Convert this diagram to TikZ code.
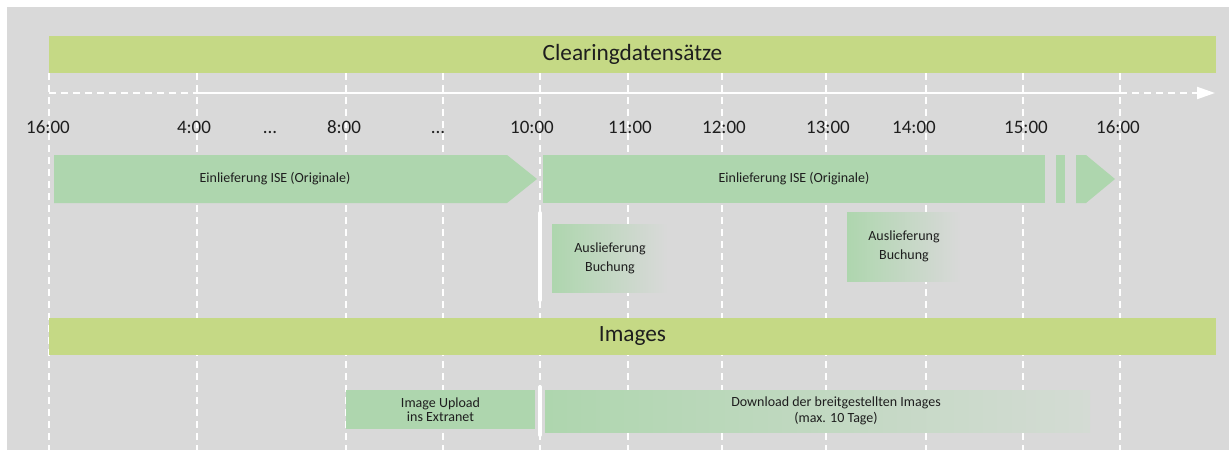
\documentclass[tikz,border=0pt]{standalone}
\usepackage{fontspec}
\setmainfont{Carlito}
\usepackage{tikz}
\usetikzlibrary{arrows.meta}
\definecolor{bggray}{RGB}{217,217,217}
\definecolor{barolive}{RGB}{197,217,133}
\definecolor{boxgreen}{RGB}{174,214,174}
\definecolor{dlgray}{RGB}{212,219,212}
\definecolor{txtgray}{RGB}{30,30,30}

\begin{document}
\begin{tikzpicture}[x=1pt,y=-1pt,
    every node/.style={text=txtgray,inner sep=0pt},
    headbar/.style={fill=barolive,minimum width=1167pt,minimum height=37pt,font=\fontsize{23.3}{28}\selectfont},
    gridline/.style={white,line width=2pt,dash pattern=on 7pt off 5pt},
    timelabel/.style={anchor=base,font=\fontsize{19}{23}\selectfont},
    smalltext/.style={font=\fontsize{14}{19}\selectfont,align=center},
    fadebox/.style={left color=boxgreen,right color=bggray}]
    \fill[white] (0,0) rectangle (1229,450);
    \fill[bggray] (7,7) rectangle (1229,450);
    \useasboundingbox (0,0) rectangle (1229,450);
    % grid
    \foreach \x in {49,197,346,443,540,628,722,826,926,1023,1120}
        \draw[gridline] (\x,73) -- (\x,450);
    % time axis
    \coordinate (start) at (49,93);
    \coordinate (four) at (197,93);
    \coordinate (sixteen) at (1120,93);
    \coordinate (axisend) at (1215,93);
    \draw[gridline] (start) -- (four);
    \draw[white,line width=2pt] (four) -- (sixteen);
    \draw[gridline,-{Triangle[length=18pt,width=12pt]}] (sixteen) -- (axisend);
    \node[timelabel] (l16a) at (48,133) {16:00};
    \node[timelabel] (l4) at (194,133) {4:00};
    \node[timelabel] (dotsa) at (270,133) {...};
    \node[timelabel] (l8) at (344,133) {8:00};
    \node[timelabel] (dotsb) at (438,133) {...};
    \node[timelabel] (l10) at (532,133) {10:00};
    \node[timelabel] (l11) at (630,133) {11:00};
    \node[timelabel] (l12) at (724,133) {12:00};
    \node[timelabel] (l13) at (828,133) {13:00};
    \node[timelabel] (l14) at (914,133) {14:00};
    \node[timelabel] (l15) at (1026,133) {15:00};
    \node[timelabel] (l16b) at (1118,133) {16:00};
    % clearing
    \node[headbar] (clearing) at (632.5,54.5) {Clearingdatensätze};
    \fill[boxgreen] (54,155) -- (507,155) -- (537,179) -- (507,203) -- (54,203) -- cycle;
    \node[smalltext] (ise1) at (275,179) {Einlieferung ISE (Originale)};
    \fill[boxgreen] (543,155) rectangle (1045,203);
    \fill[boxgreen] (1056,155) rectangle (1065,203);
    \fill[boxgreen] (1076,155) -- (1086,155) -- (1115,179) -- (1086,203) -- (1076,203) -- cycle;
    \node[smalltext] (ise2) at (794,179) {Einlieferung ISE (Originale)};
    \node[smalltext,fadebox,minimum width=116pt,minimum height=68pt] (aus1) at (610,258) {Auslieferung\\Buchung};
    \node[smalltext,fadebox,minimum width=114pt,minimum height=69pt] (aus2) at (904,246.5) {Auslieferung\\Buchung};
    % images
    \node[headbar] (images) at (632.5,336.5) {Images};
    \node[smalltext,fill=boxgreen,minimum width=189pt,minimum height=39pt,font=\fontsize{14}{14}\selectfont] (upload) at (440.5,409.5) {Image Upload\\ins Extranet};
    \shade[left color=boxgreen,right color=dlgray] (545,390) rectangle (1090,432);
    \node[smalltext,font=\fontsize{14}{16}\selectfont] (download) at (836,411) {Download der breitgestellten Images\\(max. 10 Tage)};
    % cut at 10:00
    \draw[white,line width=4pt,line cap=round] (540,213) -- (540,300);
    \draw[white,line width=4pt,line cap=round] (540,387) -- (540,435);
\end{tikzpicture}
\end{document}
